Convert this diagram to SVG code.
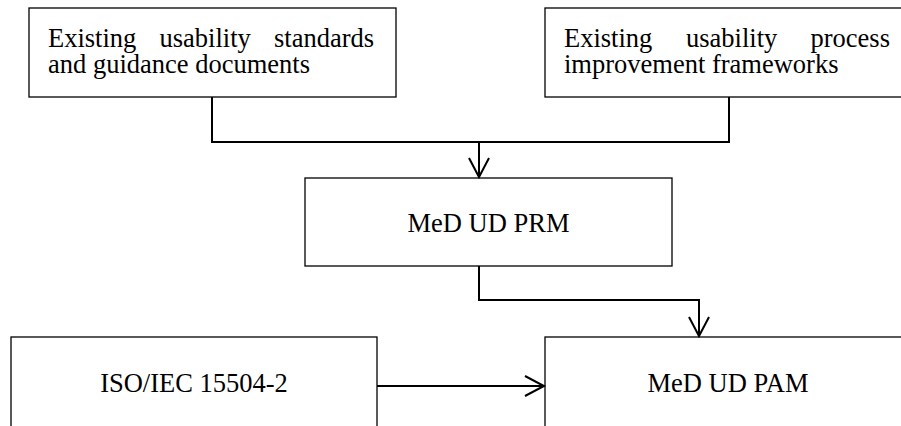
<svg xmlns="http://www.w3.org/2000/svg" width="901" height="426" viewBox="0 0 901 426">
  <defs>
    <style>
      .box { fill: #ffffff; stroke: #000000; stroke-width: 1.3; }
      .lbl { font-family: "Liberation Serif", "Times New Roman", serif; font-size: 26.5px; fill: #000000; }
      .mid { text-anchor: middle; }
      .conn { fill: none; stroke: #000000; stroke-width: 2; }
    </style>
    <marker id="arrow" markerUnits="userSpaceOnUse" markerWidth="24" markerHeight="24" viewBox="-21 -12 24 24" refX="0" refY="0" orient="auto">
      <path d="M-19,-10 L0,0 L-19,10" fill="none" stroke="#000000" stroke-width="2"/>
    </marker>
  </defs>
  <rect width="901" height="426" fill="#ffffff"/>

  <g id="node-standards">
    <rect class="box" x="29" y="8" width="367" height="89"/>
    <text class="lbl"><tspan x="48" y="46.5">Existing</tspan><tspan x="159.5" y="46.5">usability</tspan><tspan x="274" y="46.5">standards</tspan><tspan x="48" y="72.5">and guidance documents</tspan></text>
  </g>

  <g id="node-frameworks">
    <rect class="box" x="545" y="8" width="370" height="89"/>
    <text class="lbl"><tspan x="564" y="46.5">Existing</tspan><tspan x="686" y="46.5">usability</tspan><tspan x="810.5" y="46.5">process</tspan><tspan x="564" y="72.5">improvement frameworks</tspan></text>
  </g>

  <g id="node-prm">
    <rect class="box" x="305" y="178" width="367" height="88"/>
    <text class="lbl mid" x="488.5" y="232">MeD UD PRM</text>
  </g>

  <g id="node-iso">
    <rect class="box" x="11" y="337" width="366" height="100"/>
    <text class="lbl mid" x="194" y="392">ISO/IEC 15504-2</text>
  </g>

  <g id="node-pam">
    <rect class="box" x="545" y="337" width="370" height="100"/>
    <text class="lbl mid" x="728" y="392">MeD UD PAM</text>
  </g>

  <g id="connectors">
    <path class="conn" d="M212,97 V142 H729 V97"/>
    <path class="conn" d="M479,142 V177" marker-end="url(#arrow)"/>
    <path class="conn" d="M479,266 V300 H699 V336" marker-end="url(#arrow)"/>
    <path class="conn" d="M377,386 H544" marker-end="url(#arrow)"/>
  </g>
</svg>
